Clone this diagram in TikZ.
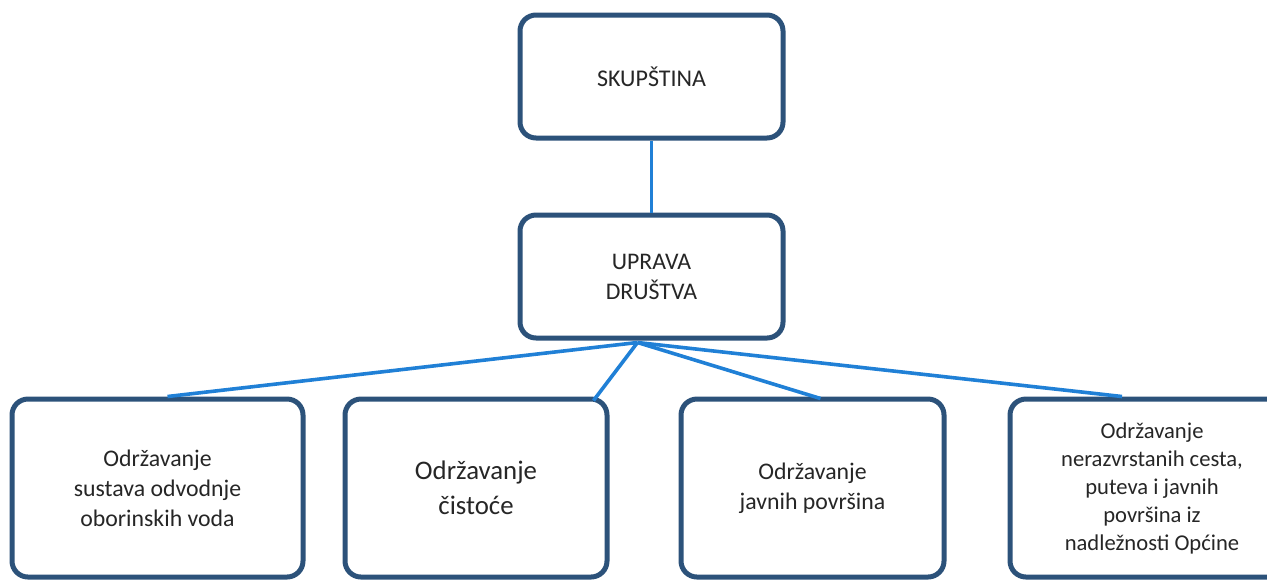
\documentclass[tikz,border=0pt]{standalone}
\usepackage{fontspec}
\setmainfont{Carlito}
\usepackage{tikz}
\usetikzlibrary{calc}
\definecolor{boxblue}{RGB}{44,82,122}
\definecolor{lineblue}{RGB}{32,128,214}

\begin{document}
\begin{tikzpicture}[
    x=0.5pt,y=-0.5pt,
    box/.style={draw=boxblue,line width=2.5pt,rounded corners=8pt,fill=white,
      minimum width=131.5pt,minimum height=61.5pt,align=center,inner sep=0pt,
      text=black!85,font=\fontsize{11.9}{15}\selectfont},
    lowbox/.style={box,minimum height=89pt},
    link/.style={lineblue,line width=1.8pt}
    ]
    \useasboundingbox (0,0) rectangle (1267,580);
    \node[box, font=\fontsize{12}{15}\selectfont] (skup) at (651.5, 76.5) {SKUP\v{S}TINA};
    \node[box] (uprava) at (651.5, 276.5) {UPRAVA\\DRU\v{S}TVA};
    \node[lowbox, minimum width=145.5pt] (odvod) at (157.5, 488) {Održavanje\\sustava odvodnje\\oborinskih voda};
    \node[lowbox, minimum width=131pt, font=\fontsize{13.4}{17.5}\selectfont] (cistoca) at (476, 488) {Održavanje\\čistoće};
    \node[lowbox] (povrs) at (812.5, 488) {Održavanje\\javnih površina};
    \node[lowbox, minimum width=142pt, font=\fontsize{11.3}{14}\selectfont] (ceste) at (1152, 488) {Održavanje\\nerazvrstanih cesta,\\puteva i javnih\\površina iz\\nadležnosti Općine};
    \draw[link] (skup) -- (uprava);
    \coordinate (root) at ($(uprava.south)+(-14,2)$);
    \draw[link] (root) -- ($(odvod.north)+(10,0)$);
    \draw[link] (root) -- ($(cistoca.north east)+(-16,4)$);
    \draw[link] (root) -- ($(povrs.north)+(8,2)$);
    \draw[link] (root) -- ($(ceste.north)+(-30,0)$);
  \end{tikzpicture}
\end{document}
